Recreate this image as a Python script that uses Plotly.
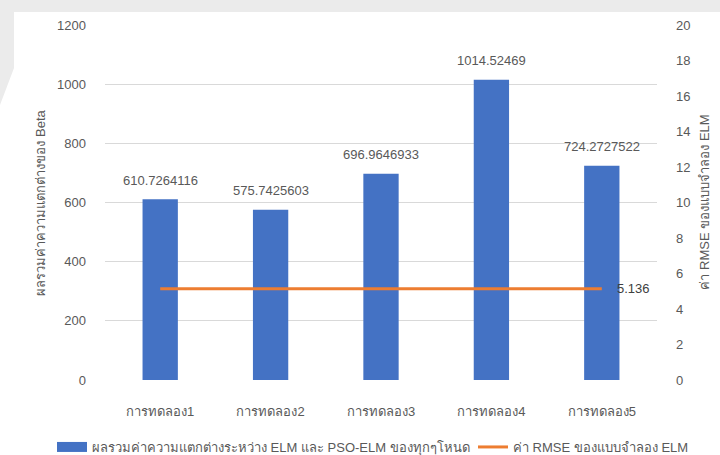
import plotly.graph_objects as go

categories = ["การทดลอง1", "การทดลอง2", "การทดลอง3", "การทดลอง4", "การทดลอง5"]
beta_diff = [610.7264116, 575.7425603, 696.9646933, 1014.52469, 724.2727522]
rmse_elm = [5.136, 5.136, 5.136, 5.136, 5.136]
bar_labels = ["610.7264116", "575.7425603", "696.9646933", "1014.52469", "724.2727522"]

bar_name = "ผลรวมค่าความแตกต่างระหว่าง ELM และ PSO-ELM ของทุกๆโหนด"
line_name = "ค่า RMSE ของแบบจำลอง ELM"
left_title = "ผลรวมค่าความแตกต่างของ Beta"
right_title = "ค่า RMSE ของแบบจำลอง ELM"

W, H = 720, 455
ML, MR, MT, MB = 105, 63, 25, 75
PW, PH = W - ML - MR, H - MT - MB

FONT = "Liberation Sans, Arial, sans-serif"
GRAY = "#595959"
FS = 13
BLUE = "#4472C4"
ORANGE = "#ED7D31"


def px(x):
    return (x - ML) / PW


def py(y):
    return 1 - (y - MT) / PH


fig = go.Figure()
fig.add_trace(go.Bar(
    x=categories, y=beta_diff, name=bar_name,
    marker=dict(color=BLUE, line=dict(width=0)),
    yaxis="y", width=0.32, showlegend=False,
))
fig.add_trace(go.Scatter(
    x=categories, y=rmse_elm, name=line_name, mode="lines",
    line=dict(color=ORANGE, width=3), yaxis="y2", legend="legend2",
))
# legend entry for the bars, drawn as a wide block like the reference
fig.add_trace(go.Scatter(
    x=[None], y=[None], name=bar_name, mode="lines",
    line=dict(color=BLUE, width=12), legend="legend", showlegend=True,
))

annotations = []
for c, v, t in zip(categories, beta_diff, bar_labels):
    annotations.append(dict(x=c, y=v, xref="x", yref="y", text=t, showarrow=False,
                            yshift=19, font=dict(size=FS, color=GRAY, family=FONT)))
annotations.append(dict(x=categories[-1], y=rmse_elm[-1], xref="x", yref="y2",
                        text=f"{rmse_elm[-1]:.3f}", showarrow=False, xanchor="left",
                        xshift=13, font=dict(size=FS, color="#404040", family=FONT)))
annotations.append(dict(x=px(40), y=0.5, xref="paper", yref="paper", text=left_title,
                        textangle=-90, showarrow=False, xanchor="center", yanchor="middle",
                        font=dict(size=FS, color=GRAY, family=FONT)))
annotations.append(dict(x=px(704), y=0.5, xref="paper", yref="paper", text=right_title,
                        textangle=-90, showarrow=False, xanchor="center", yanchor="middle",
                        font=dict(size=FS, color=GRAY, family=FONT)))

wm = (f"M{px(0)},{py(0)} L{px(W)},{py(0)} L{px(W)},{py(12)} L{px(14)},{py(12)} "
      f"L{px(14)},{py(68)} L{px(0)},{py(105)} Z")
shapes = [
    dict(type="path", xref="paper", yref="paper", path=wm,
         fillcolor="#ebebeb", line=dict(width=0), layer="below"),
]

fig.update_layout(
    width=W, height=H,
    margin=dict(l=ML, r=MR, t=MT, b=MB, autoexpand=False),
    paper_bgcolor="white", plot_bgcolor="white",
    font=dict(family=FONT, size=FS, color=GRAY),
    showlegend=True,
    legend=dict(orientation="h", x=px(52), xanchor="left", y=py(447), yanchor="middle",
                font=dict(size=FS, color=GRAY), itemwidth=30, bgcolor="rgba(0,0,0,0)"),
    legend2=dict(orientation="h", x=px(473), xanchor="left", y=py(447), yanchor="middle",
                 font=dict(size=FS, color=GRAY), itemwidth=30, bgcolor="rgba(0,0,0,0)"),
    xaxis=dict(showgrid=False, showline=False, ticks="", tickfont=dict(size=FS, color=GRAY),
               ticklabelstandoff=22, automargin=False),
    yaxis=dict(range=[0, 1200], dtick=200, showgrid=True, gridcolor="#d9d9d9", gridwidth=1,
               zeroline=False, showline=False, ticks="", tickfont=dict(size=FS, color=GRAY),
               ticklabelstandoff=18, automargin=False),
    yaxis2=dict(range=[0, 20], dtick=2, overlaying="y", side="right", showgrid=False,
                zeroline=False, showline=False, ticks="", tickfont=dict(size=FS, color=GRAY),
                ticklabelstandoff=18, automargin=False),
    annotations=annotations,
    shapes=shapes,
    bargap=0.68,
)

fig.write_html("out.html")
